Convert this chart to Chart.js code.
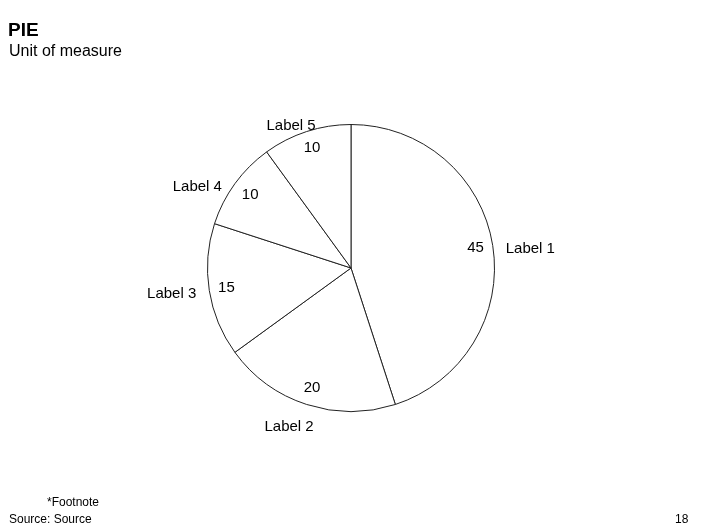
<!DOCTYPE html>
<html>
<head>
<meta charset="utf-8">
<script src="https://cdn.jsdelivr.net/npm/chart.js@4/dist/chart.umd.min.js"></script>
<style>
  body { margin: 0; background: #fff; font-family: "Liberation Sans", Arial, sans-serif; color: #000; }
  #wrap { position: relative; width: 706px; height: 529px; overflow: hidden; }
  .txt { position: absolute; white-space: nowrap; z-index: 2; }
  #title { left: 8px; top: 19px; font-size: 19px; font-weight: bold; }
  #sub { left: 9px; top: 42px; font-size: 16px; }
  #foot { left: 47px; top: 495px; font-size: 12px; }
  #src { left: 9px; top: 512px; font-size: 12px; }
  #page { left: 675px; top: 512px; font-size: 12px; }
  #box { position: absolute; left: 0; top: 0; width: 706px; height: 529px; }
</style>
</head>
<body>
<div id="wrap">
  <div id="box"><canvas id="pieChart" width="706" height="529"></canvas></div>
  <div class="txt" id="title">PIE</div>
  <div class="txt" id="sub">Unit of measure</div>
  <div class="txt" id="foot">*Footnote</div>
  <div class="txt" id="src">Source: Source</div>
  <div class="txt" id="page">18</div>
</div>
<script>
const labels = ["Label 1", "Label 2", "Label 3", "Label 4", "Label 5"];
const values = [45, 20, 15, 10, 10];

// value inside the slice, category name outside
const sliceLabels = {
  id: 'sliceLabels',
  afterDatasetsDraw(chart) {
    const c = chart.ctx;
    const meta = chart.getDatasetMeta(0);
    c.save();
    c.font = '15px "Liberation Sans", Arial, sans-serif';
    c.fillStyle = '#000';
    meta.data.forEach((arc, i) => {
      const p = arc.getProps(['x', 'y', 'startAngle', 'endAngle', 'outerRadius'], true);
      const mid = (p.startAngle + p.endAngle) / 2;
      const cx = Math.cos(mid), cy = Math.sin(mid);
      const r = p.outerRadius;
      // value
      const vt = String(values[i]);
      const vw = c.measureText(vt).width / 2;
      const vr = r - 8 - Math.abs(cx) * vw - Math.abs(cy) * 7;
      c.textAlign = 'center';
      c.textBaseline = 'middle';
      c.fillText(vt, p.x + cx * vr, p.y + cy * vr);
      // label, anchored on the rim
      const ax = p.x + cx * r, ay = p.y + cy * r;
      const lt = labels[i];
      if (Math.abs(cx) > 0.5) {
        c.textAlign = cx > 0 ? 'left' : 'right';
        c.textBaseline = 'middle';
        c.fillText(lt, ax + (cx > 0 ? 13 : -13), ay + 3);
      } else {
        c.textAlign = 'right';
        if (cy < 0) {
          c.textBaseline = 'alphabetic';
          c.fillText(lt, ax + 9, ay - 2);
        } else {
          c.textBaseline = 'middle';
          c.fillText(lt, ax + 7, ay + 22);
        }
      }
    });
    c.restore();
  }
};

new Chart(document.getElementById('pieChart'), {
  type: 'pie',
  data: {
    labels: labels,
    datasets: [{
      data: values,
      backgroundColor: '#fff',
      borderColor: '#222',
      borderWidth: 1
    }]
  },
  options: {
    responsive: false,
    animation: false,
    layout: { padding: { left: 207, right: 211, top: 124, bottom: 117 } },
    plugins: {
      legend: { display: false },
      tooltip: { enabled: false }
    }
  },
  plugins: [sliceLabels]
});
</script>
</body>
</html>
